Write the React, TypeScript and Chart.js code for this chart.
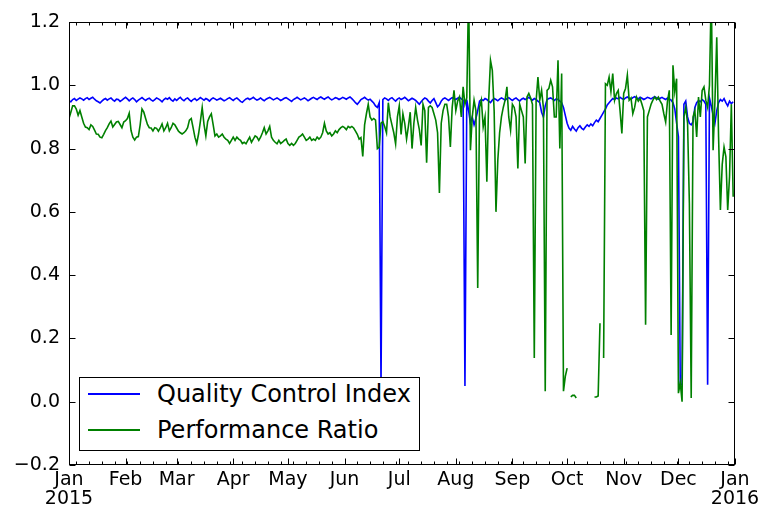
import React, { useEffect, useRef } from "react";
import { Chart, registerables } from "chart.js";

Chart.register(...registerables);

// ---- axis ticks ----
const MONTH_TICKS = [0, 31, 59, 90, 120, 151, 181, 212, 243, 273, 304, 334, 365];
const MONTH_LABELS: (string | string[])[] = [
  ["Jan", "2015"], "Feb", "Mar", "Apr", "May", "Jun", "Jul", "Aug", "Sep", "Oct", "Nov", "Dec", ["Jan", "2016"],
];
const WEEK_TICKS = [
  4, 11, 18, 25, 32, 39, 46, 53, 60, 67, 74, 81, 88, 95, 102, 109, 116, 123, 130, 137, 144, 151, 158, 165, 172, 179,
  186, 193, 200, 207, 214, 221, 228, 235, 242, 249, 256, 263, 270, 277, 284, 291, 298, 305, 312, 319, 326, 333, 340,
  347, 354, 361,
];
const Y_TICKS = [-0.2, 0, 0.2, 0.4, 0.6, 0.8, 1.0, 1.2];
const Y_TICK_LABELS = ["\u22120.2", "0.0", "0.2", "0.4", "0.6", "0.8", "1.0", "1.2"];

// ---- series ----
const SERIES_LABELS = ["Quality Control Index", "Performance Ratio"];
const SERIES_COLORS = ["#0000ff", "#008000"];

// daily values, 1 Jan 2015 .. 31 Dec 2015
const QCI: (number | null)[] = [
  0.950, 0.948, 0.955, 0.958, 0.952, 0.956, 0.960, 0.957, 0.953, 0.958,
  0.961, 0.955, 0.959, 0.962, 0.956, 0.951, 0.948, 0.944, 0.950, 0.955,
  0.958, 0.953, 0.957, 0.960, 0.954, 0.950, 0.956, 0.955, 0.949, 0.953,
  0.958, 0.962, 0.957, 0.951, 0.956, 0.960, 0.955, 0.948, 0.953, 0.957,
  0.961, 0.956, 0.952, 0.957, 0.959, 0.954, 0.950, 0.955, 0.960, 0.957,
  0.953, 0.948, 0.955, 0.959, 0.956, 0.961, 0.954, 0.950, 0.957, 0.952,
  0.958, 0.962, 0.955, 0.951, 0.957, 0.960, 0.954, 0.949, 0.955, 0.958,
  0.952, 0.956, 0.961, 0.957, 0.953, 0.958, 0.955, 0.950, 0.956, 0.960,
  0.957, 0.953, 0.956, 0.959, 0.955, 0.951, 0.954, 0.958, 0.961, 0.956,
  0.952, 0.957, 0.960, 0.955, 0.949, 0.946, 0.952, 0.957, 0.959, 0.955,
  0.958, 0.962, 0.957, 0.953, 0.956, 0.960, 0.955, 0.951, 0.956, 0.959,
  0.962, 0.958, 0.954, 0.957, 0.960, 0.956, 0.952, 0.955, 0.959, 0.961,
  0.957, 0.953, 0.949, 0.955, 0.958, 0.962, 0.958, 0.954, 0.957, 0.960,
  0.956, 0.951, 0.955, 0.959, 0.962, 0.958, 0.955, 0.960, 0.963, 0.959,
  0.956, 0.960, 0.963, 0.958, 0.954, 0.957, 0.961, 0.959, 0.955, 0.958,
  0.962, 0.959, 0.956, 0.960, 0.963, 0.958, 0.952, 0.945, 0.940, 0.947,
  0.955, 0.958, 0.962, 0.957, 0.953, 0.956, 0.950, 0.944, 0.935, 0.930,
  0.945, 0.050, 0.955, 0.960, 0.957, 0.952, 0.958, 0.961, 0.955, 0.950,
  0.956, 0.960, 0.955, 0.958, 0.962, 0.957, 0.951, 0.955, 0.959, 0.956,
  0.952, 0.946, 0.940, 0.948, 0.955, 0.960, 0.957, 0.950, 0.944, 0.952,
  0.958, 0.945, 0.932, 0.938, 0.950, 0.957, 0.960, 0.956, 0.952, 0.957,
  0.961, 0.958, 0.955, 0.959, 0.962, 0.957, 0.953, 0.050, 0.955, 0.920,
  0.880, 0.900, 0.875, 0.895, 0.920, 0.950, 0.955, 0.952, 0.958, 0.955,
  0.950, 0.945, 0.953, 0.958, 0.955, 0.951, 0.956, 0.960, 0.957, 0.953,
  0.958, 0.961, 0.956, 0.952, 0.957, 0.960, 0.955, 0.950, 0.956, 0.959,
  0.955, 0.958, 0.962, 0.957, 0.953, 0.958, 0.955, 0.950, 0.945, 0.915,
  0.900, 0.935, 0.955, 0.958, 0.960, 0.956, 0.952, 0.957, 0.955, 0.950,
  0.945, 0.930, 0.905, 0.880, 0.865, 0.858, 0.870, 0.862, 0.855, 0.866,
  0.872, 0.864, 0.860, 0.868, 0.875, 0.870, 0.878, 0.872, 0.882, 0.890,
  0.885, 0.895, 0.905, 0.915, 0.925, 0.938, 0.945, 0.952, 0.958, 0.955,
  0.960, 0.957, 0.962, 0.958, 0.955, 0.960, 0.963, 0.959, 0.956, 0.961,
  0.964, 0.960, 0.957, 0.962, 0.959, 0.955, 0.958, 0.962, 0.960, 0.957,
  0.961, 0.964, 0.960, 0.956, 0.959, 0.962, 0.958, 0.955, 0.960, 0.957,
  0.953, 0.945, 0.925, 0.880, 0.837, 0.054, 0.054, 0.940, 0.950, 0.900,
  0.880, 0.875, 0.885, 0.930, 0.945, 0.952, 0.948, 0.955, 0.950, 0.940,
  0.054, 0.960, 0.935, 0.905, 0.880, 0.920, 0.945, 0.955, 0.950, 0.958,
  0.945, 0.935, 0.950, 0.942, 0.948,
];

const PR: (number | null)[] = [
  0.895, 0.915, 0.935, 0.935, 0.925, 0.905, 0.920, 0.900, 0.880, 0.868,
  0.866, 0.860, 0.875, 0.870, 0.858, 0.846, 0.845, 0.836, 0.834, 0.845,
  0.857, 0.866, 0.878, 0.887, 0.868, 0.876, 0.884, 0.886, 0.876, 0.866,
  0.884, 0.888, 0.895, 0.912, 0.857, 0.836, 0.827, 0.836, 0.838, 0.875,
  0.925, 0.915, 0.895, 0.876, 0.866, 0.865, 0.856, 0.866, 0.864, 0.855,
  0.865, 0.878, 0.856, 0.866, 0.880, 0.856, 0.866, 0.880, 0.875, 0.865,
  0.855, 0.850, 0.846, 0.850, 0.856, 0.866, 0.890, 0.895, 0.866, 0.836,
  0.816, 0.846, 0.886, 0.930, 0.876, 0.840, 0.886, 0.900, 0.910, 0.876,
  0.840, 0.846, 0.836, 0.840, 0.846, 0.836, 0.830, 0.826, 0.816, 0.826,
  0.836, 0.826, 0.836, 0.830, 0.826, 0.816, 0.820, 0.815, 0.826, 0.836,
  0.820, 0.830, 0.840, 0.836, 0.826, 0.836, 0.850, 0.866, 0.846, 0.856,
  0.870, 0.836, 0.826, 0.820, 0.815, 0.826, 0.816, 0.820, 0.826, 0.830,
  0.816, 0.810, 0.816, 0.810, 0.816, 0.826, 0.836, 0.840, 0.846, 0.836,
  0.826, 0.830, 0.836, 0.826, 0.830, 0.826, 0.836, 0.830, 0.836, 0.850,
  0.880, 0.856, 0.846, 0.850, 0.840, 0.846, 0.856, 0.850, 0.860, 0.866,
  0.870, 0.866, 0.860, 0.870, 0.866, 0.870, 0.865, 0.855, 0.845, 0.830,
  0.835, 0.775, 0.875, 0.910, 0.940, 0.900, 0.890, 0.895, 0.890, 0.800,
  0.805, 0.880, 0.885, 0.870, 0.850, 0.945, 0.900, 0.875, 0.850, 0.815,
  0.900, 0.935, 0.845, 0.910, 0.880, 0.830, 0.870, 0.915, 0.800, 0.880,
  0.930, 0.890, 0.860, 0.810, 0.940, 0.920, 0.755, 0.930, 0.935, 0.930,
  0.910, 0.890, 0.850, 0.660, 0.880, 0.920, 0.940, 0.940, 0.900, 0.805,
  0.930, 0.984, 0.920, 0.950, 0.963, 0.900, 0.995, 0.940, 0.960, 1.300,
  0.795, 0.900, 0.953, 0.920, 0.359, 0.930, 0.953, 0.868, 0.900, 0.695,
  0.953, 1.079, 1.047, 0.920, 0.600, 0.763, 0.850, 0.900, 0.930, 0.953,
  0.995, 0.900, 0.858, 0.940, 0.930, 0.900, 0.737, 0.940, 0.920, 0.900,
  0.753, 0.963, 0.974, 0.960, 0.940, 0.138, 0.950, 1.026, 0.953, 0.984,
  0.930, 0.033, 0.984, 0.990, 1.016, 0.995, 0.900, 0.900, 1.079, 0.800,
  1.037, 0.033, 0.080, 0.106, null, 0.015, 0.020, 0.020, 0.012, null,
  null, null, null, null, null, null, null, null, 0.015, 0.015,
  0.018, 0.248, null, 0.138, 1.005, 1.000, 1.026, 0.980, 1.037, 0.953,
  0.974, 0.984, 0.920, 0.848, 0.974, 0.990, 1.032, 0.953, 0.960, 0.910,
  0.930, 0.963, 0.950, 0.958, 0.940, 0.920, 0.243, 0.900, 0.920, 0.940,
  0.953, 0.963, 0.955, 0.963, 0.950, 0.940, 0.910, 0.884, 0.950, 0.984,
  0.211, 1.063, 0.980, 1.021, 0.027, 0.059, 0.000, 0.900, 0.930, 0.880,
  0.627, 0.012, 0.900, 0.920, 0.837, 0.963, 0.900, 0.984, 0.995, 0.953,
  0.930, 1.000, 1.300, 0.795, 0.950, 1.152, 0.837, 0.606, 0.750, 0.805,
  0.774, 0.606, 0.711, 0.940, 0.648,
];

const FONT = "'DejaVu Sans', sans-serif";

const framePlugin = {
  id: "mplFrame",
  afterDatasetsDraw(chart: any) {
    const { ctx, chartArea, scales } = chart;
    const { left, right, top, bottom } = chartArea;
    const xs = scales.x;
    const ys = scales.y;
    const L = Math.round(left) + 0.5;
    const R = Math.round(right) - 0.5;
    const T = Math.round(top) + 0.5;
    const B = Math.round(bottom) - 0.5;
    ctx.save();
    ctx.strokeStyle = "#000";
    ctx.lineWidth = 1;
    ctx.beginPath();
    for (const v of Y_TICKS) {
      const p = Math.round(ys.getPixelForValue(v)) + 0.5;
      ctx.moveTo(L, p);
      ctx.lineTo(L + 6, p);
      ctx.moveTo(R, p);
      ctx.lineTo(R - 6, p);
    }
    for (const v of MONTH_TICKS) {
      const p = Math.round(xs.getPixelForValue(v)) + 0.5;
      ctx.moveTo(p, B);
      ctx.lineTo(p, B - 6);
      ctx.moveTo(p, T);
      ctx.lineTo(p, T + 6);
    }
    for (const v of WEEK_TICKS) {
      const p = Math.round(xs.getPixelForValue(v)) + 0.5;
      ctx.moveTo(p, B);
      ctx.lineTo(p, B - 3);
      ctx.moveTo(p, T);
      ctx.lineTo(p, T + 3);
    }
    ctx.stroke();
    ctx.strokeRect(L, T, R - L, B - T);
    ctx.restore();
  },
};

export default function App() {
  const ref = useRef<HTMLCanvasElement>(null);

  useEffect(() => {
    document.body.style.margin = "0";
    document.body.style.overflow = "hidden";
    const canvas = ref.current;
    if (!canvas) return;
    const chart = new Chart(canvas, {
      type: "line",
      data: {
        datasets: [
          {
            label: SERIES_LABELS[0],
            data: QCI.map((v, i) => ({ x: i, y: v })) as any,
            borderColor: SERIES_COLORS[0],
            backgroundColor: SERIES_COLORS[0],
            borderWidth: 1.6,
            pointRadius: 0,
            tension: 0,
            fill: false,
            spanGaps: false,
            order: 1,
          },
          {
            label: SERIES_LABELS[1],
            data: PR.map((v, i) => ({ x: i, y: v })) as any,
            borderColor: SERIES_COLORS[1],
            backgroundColor: SERIES_COLORS[1],
            borderWidth: 1.6,
            pointRadius: 0,
            tension: 0,
            fill: false,
            spanGaps: false,
            order: 0,
          },
        ],
      },
      options: {
        responsive: false,
        animation: false,
        devicePixelRatio: 1,
        events: [],
        layout: { padding: { top: 22, right: 26, left: 0, bottom: 0 } },
        plugins: { legend: { display: false }, tooltip: { enabled: false } },
        scales: {
          x: {
            type: "linear",
            min: 0,
            max: 365,
            grid: { display: false, drawTicks: false },
            border: { display: false },
            afterBuildTicks: (s: any) => {
              s.ticks = MONTH_TICKS.map((v) => ({ value: v }));
            },
            afterFit: (s: any) => {
              s.height = 46;
              s.paddingLeft = 0;
              s.paddingRight = 0;
            },
            ticks: {
              autoSkip: false,
              maxRotation: 0,
              minRotation: 0,
              padding: 6,
              color: "#000",
              font: { family: FONT, size: 19, lineHeight: 1.0 },
              callback: (_v: any, i: number) => MONTH_LABELS[i],
            },
          },
          y: {
            type: "linear",
            min: -0.2,
            max: 1.2,
            grid: { display: false, drawTicks: false },
            border: { display: false },
            afterBuildTicks: (s: any) => {
              s.ticks = Y_TICKS.map((v) => ({ value: v }));
            },
            afterFit: (s: any) => {
              s.width = 69;
              s.paddingTop = 0;
              s.paddingBottom = 0;
            },
            ticks: {
              padding: 9,
              color: "#000",
              font: { family: FONT, size: 19 },
              callback: (_v: any, i: number) => Y_TICK_LABELS[i],
            },
          },
        },
      },
      plugins: [framePlugin],
    } as any);
    return () => chart.destroy();
  }, []);

  return (
    <div style={{ position: "relative", width: 761, height: 511, background: "#fff", overflow: "hidden" }}>
      <canvas ref={ref} width={761} height={511} style={{ display: "block" }} />
      <div
        style={{
          position: "absolute",
          left: 79,
          top: 377,
          width: 341,
          height: 74,
          boxSizing: "border-box",
          border: "1px solid #000",
          background: "#fff",
        }}
      >
        {SERIES_LABELS.map((lab, i) => (
          <div key={lab} style={{ position: "absolute", left: 0, top: i === 0 ? 16 : 52, height: 0 }}>
            <div
              style={{
                position: "absolute",
                left: 8,
                top: -1,
                width: 52,
                height: 2,
                background: SERIES_COLORS[i],
              }}
            />
            <div
              style={{
                position: "absolute",
                left: 77,
                top: -15,
                height: 30,
                lineHeight: "30px",
                fontFamily: FONT,
                fontSize: 24,
                whiteSpace: "nowrap",
                color: "#000",
              }}
            >
              {lab}
            </div>
          </div>
        ))}
      </div>
    </div>
  );
}
